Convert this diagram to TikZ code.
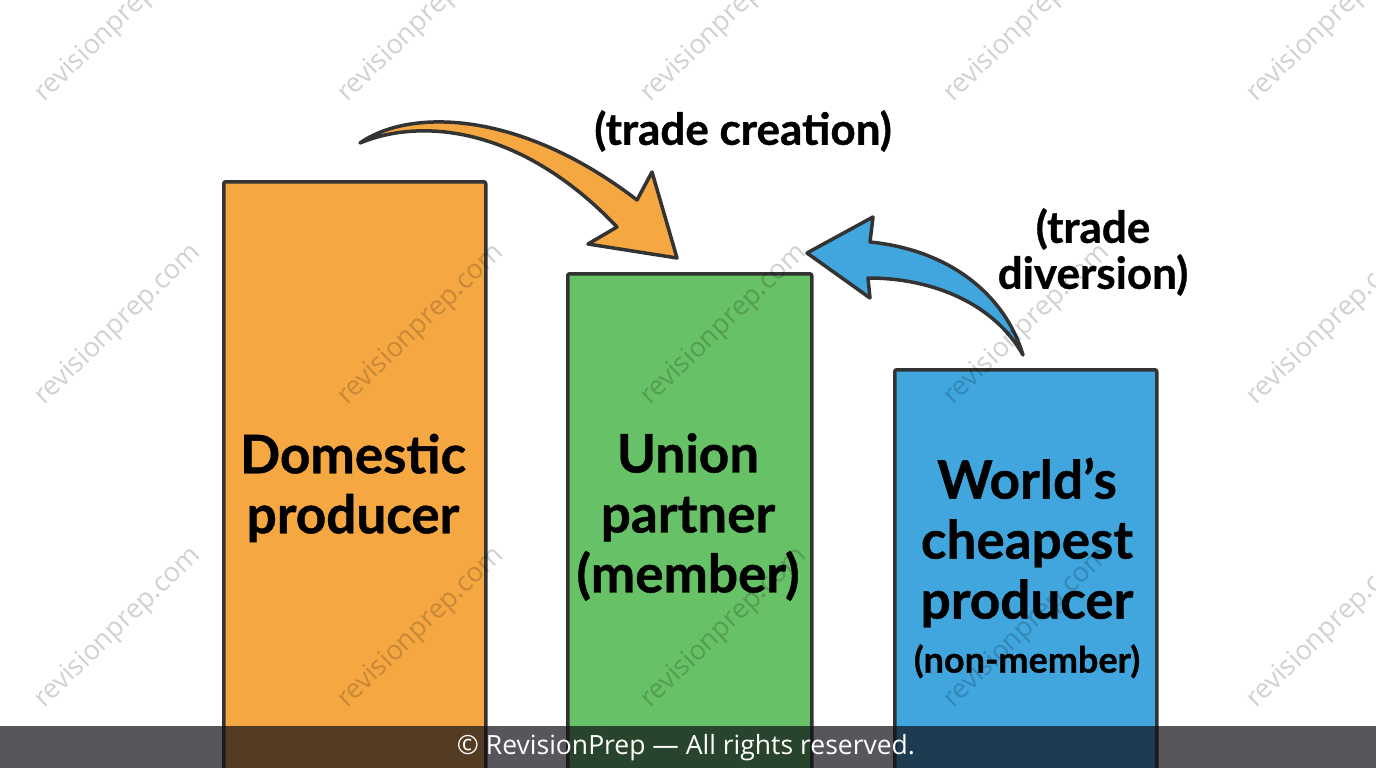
\documentclass[tikz,border=0pt]{standalone}
\usepackage{fontspec}
\setmainfont{Lato}[BoldFeatures={FakeBold=0.8}]
\newfontfamily\bannerfont{Open Sans}
\newfontfamily\wmfont{Open Sans}
\definecolor{barorange}{HTML}{F5A742}
\definecolor{bargreen}{HTML}{67C166}
\definecolor{barblue}{HTML}{40A6DD}
\definecolor{edgegray}{HTML}{333333}
\definecolor{bannerink}{RGB}{15,15,22}
\begin{document}
\begin{tikzpicture}[x=1pt,y=-1pt,
  bar/.style={draw=edgegray, line width=3.5pt, rounded corners=2pt, anchor=north west, inner sep=0pt},
  lbl/.style={font=\bfseries\fontsize{53}{60}\selectfont, align=center, inner sep=0pt, text=black},
  note/.style={font=\bfseries\fontsize{44}{46}\selectfont, align=center, inner sep=0pt, text=black},
  arrowshape/.style={draw=edgegray, line width=3.5pt, line join=round},
  wm/.style={font=\wmfont\fontsize{27}{27}\selectfont, text=black, text opacity=0.18, rotate=44, inner sep=0pt}
]
\useasboundingbox (0,0) rectangle (1376,768);
\clip (0,0) rectangle (1376,768);
\fill[white] (0,0) rectangle (1376,768);

% bars
\node[bar, fill=barorange, minimum width=262pt, minimum height=620pt] (dombar) at (222,180) {};
\node[bar, fill=bargreen, minimum width=244pt, minimum height=520pt] (unionbar) at (566,272) {};
\node[bar, fill=barblue, minimum width=262pt, minimum height=420pt] (worldbar) at (893,368) {};

% bar labels
\node[lbl] (domtxt) at (353,488) {Domestic\\producer};
\node[lbl] (uniontxt) at (688,517) {Union\\partner\\(member)};
\node[lbl] (worldtxt) at (1027,568) {World’s\\cheapest\\producer\\[-6pt]{\fontsize{36}{40}\selectfont (non-member)}};

% arrows
\filldraw[arrowshape, fill=barorange] (360,143) .. controls (410,108) and (520,110) .. (637,200)
  -- (652,172) -- (677,258) -- (588,244) -- (617,227)
  .. controls (520,125) and (420,118) .. (360,143) -- cycle;
\filldraw[arrowshape, fill=barblue] (1023,355) .. controls (1005,295) and (950,250) .. (870,242)
  -- (873,217) -- (807,253) -- (870,298) -- (868,278)
  .. controls (935,278) and (995,305) .. (1023,355) -- cycle;

% notes
\node[note] (creation) at (743,131) {(trade creation)};
\node[note] (diversion) at (1093,252) {(trade\\diversion)};

% watermarks
\foreach \cx in {118,421,724,1027,1330}{
  \foreach \cy in {22,325,628}{
    \node[wm] (wm-\cx-\cy) at (\cx,\cy) {revisionprep.com};
  }
}

% banner
\fill[bannerink, opacity=0.7] (0,726) rectangle (1376,768);
\node[text=white, font=\bannerfont\fontsize{26.5}{26.5}\selectfont, inner sep=0pt] (copyright) at (686,748) {© RevisionPrep — All rights reserved.};
\end{tikzpicture}
\end{document}
